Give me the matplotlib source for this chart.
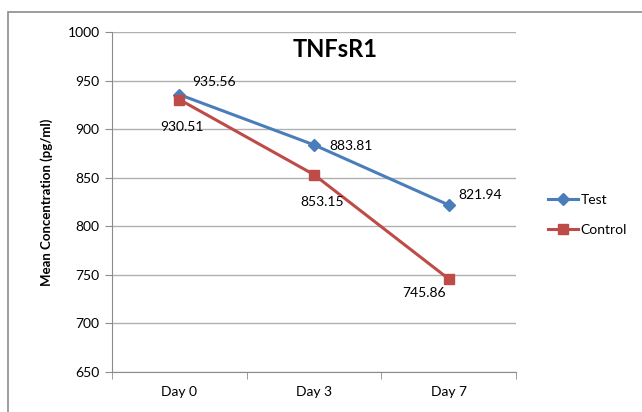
import matplotlib.pyplot as plt
from matplotlib.patches import Rectangle

# chart data
days = ['Day 0', 'Day 3', 'Day 7']
test_values = [935.56, 883.81, 821.94]
control_values = [930.51, 853.15, 745.86]

plt.rcParams['font.family'] = ['Lato', 'DejaVu Sans']

fig = plt.figure(figsize=(6.42, 4.12), dpi=100)
# outer chart frame like in the spreadsheet export
fig.patches.append(Rectangle((8 / 642, -0.1), 1.0, 1.1 - 12 / 412, transform=fig.transFigure,
                             fill=False, edgecolor='#8c8c8c', linewidth=1.2))

ax = fig.add_axes([112 / 642, 1 - 372 / 412, (516 - 112) / 642, (372 - 32) / 412])
x = list(range(len(days)))

ax.plot(x, test_values, color='#4A7EBB', marker='D', markersize=6, linewidth=2.2, label='Test')
ax.plot(x, control_values, color='#BE4B48', marker='s', markersize=7, linewidth=2.2, label='Control')

# data labels (offsets in points)
test_offsets = [(9, 9), (11, -1), (7, 7)]
control_offsets = [(2, -20), (6, -20), (-18, -10)]
for xi, v, off in zip(x, test_values, test_offsets):
    ax.annotate(f'{v:.2f}', (xi, v), xytext=off, textcoords='offset points',
                ha='left', va='center', fontsize=10)
for xi, v, off in zip(x, control_values, control_offsets):
    ax.annotate(f'{v:.2f}', (xi, v), xytext=off, textcoords='offset points',
                ha='center', va='center', fontsize=10)

ax.set_xlim(-0.5, 2.5)
ax.set_ylim(650, 1000)
ax.set_yticks(range(650, 1001, 50))
ax.set_xticks(x)
ax.set_xticklabels(days)
ax.set_xticks([-0.5, 0.5, 1.5, 2.5], minor=True)
ax.tick_params(axis='x', which='major', length=0, pad=10, labelsize=10)
ax.tick_params(axis='x', which='minor', length=5, color='#8c8c8c')
ax.tick_params(axis='y', length=5, color='#8c8c8c', labelsize=10, pad=4)
ax.yaxis.grid(True, color='#b0b0b0', linewidth=1)
ax.set_axisbelow(True)
for side in ['top', 'right']:
    ax.spines[side].set_visible(False)
for side in ['left', 'bottom']:
    ax.spines[side].set_color('#8c8c8c')

ax.set_ylabel('Mean Concentration (pg/ml)', fontsize=9.5, fontweight='bold', labelpad=10)
ax.text(0.552, 0.95, 'TNFsR1', transform=ax.transAxes, ha='center', va='center',
        fontsize=17, fontweight='bold')

fig.legend(loc='center left', bbox_to_anchor=(535 / 642, 1 - 215 / 412), frameon=False,
           fontsize=10, handlelength=2.2, labelspacing=1.3, handletextpad=0.2)

fig.savefig('out.png', dpi=100)
